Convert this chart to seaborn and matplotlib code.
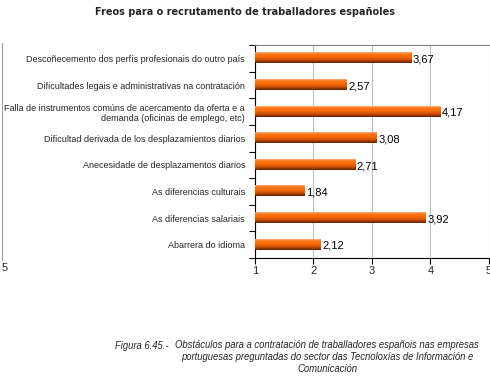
import numpy as np
import pandas as pd
import matplotlib
matplotlib.use("Agg")
import matplotlib.pyplot as plt
import seaborn as sns
from matplotlib.colors import LinearSegmentedColormap
from matplotlib.lines import Line2D

categories = [
    "Descoñecemento dos perfís profesionais do outro país",
    "Dificultades legais e administrativas na contratación",
    "Falla de instrumentos comúns de acercamento da oferta e a\ndemanda (oficinas de emplego, etc)",
    "Dificultad derivada de los desplazamientos diarios",
    "Anecesidade de desplazamentos diarios",
    "As diferencias culturais",
    "As diferencias salariais",
    "Abarrera do idioma",
]
values = [3.67, 2.57, 4.17, 3.08, 2.71, 1.84, 3.92, 2.12]
value_labels = ["3,67", "2,57", "4,17", "3,08", "2,71", "1,84", "3,92", "2,12"]
x_ticks = [1, 2, 3, 4, 5]

title = "Freos para o recrutamento de traballadores españoles"
caption_head = "Figura 6.45.-"
caption_body = ("Obstáculos para a contratación de traballadores españois nas empresas\n"
                "portuguesas preguntadas do sector das Tecnoloxías de Información e\n"
                "Comunicación")

sns.set_theme(style="white")
plt.rcParams['font.family'] = ['Liberation Sans', 'DejaVu Sans']

df = pd.DataFrame({"cat": categories, "val": values})

fig = plt.figure(figsize=(4.9, 3.76), dpi=100)
ax = fig.add_axes([0.520, 0.314, 0.478, 0.566])

sns.barplot(data=df, y="cat", x="val", orient="h", color="#E8650F",
            width=0.38, ax=ax, edgecolor="none")

ax.set_xlim(1, 5)
ax.set_ylim(len(categories) - 0.5, -0.5)
ax.set_xticks(x_ticks)
ax.set_xticklabels([str(t) for t in x_ticks], fontsize=8)
ax.set_xlabel("")
ax.set_ylabel("")
ax.set_yticks(range(len(categories)), minor=False)
ax.set_yticklabels(categories, fontsize=6.45, linespacing=1.15)
ax.tick_params(axis="y", length=0, pad=7)
ax.set_yticks(np.arange(-0.5, len(categories) + 0.5, 1), minor=True)
ax.tick_params(axis="y", which="minor", left=True, length=4, width=0.8, color="black", direction="out")
ax.tick_params(axis="x", which="major", bottom=True, length=4, width=0.8, color="black", direction="out", pad=2)
ax.grid(axis="x", color="#c0c0c0", linewidth=0.8)
ax.set_axisbelow(True)
for s in ["left", "bottom"]:
    ax.spines[s].set_color("black")
    ax.spines[s].set_linewidth(0.8)
ax.spines["top"].set_color("#808080")
ax.spines["top"].set_linewidth(0.8)
ax.spines["right"].set_visible(False)

# gradient fill of bars
cmap = LinearSegmentedColormap.from_list(
    "og", [(0.0, "#FFB080"), (0.15, "#FF7A1A"), (0.55, "#EE6000"), (0.8, "#B04400"), (1.0, "#5A1E00")])
grad = np.linspace(0, 1, 64).reshape(-1, 1)
for p, lab in zip(ax.patches, value_labels):
    x0, y0 = p.get_x(), p.get_y()
    w, h = p.get_width(), p.get_height()
    im = ax.imshow(grad, cmap=cmap, aspect="auto",
                   extent=[x0, x0 + w, y0 + h, y0], zorder=3, interpolation="bilinear")
    im.set_clip_path(p)
    im.set_clip_box(ax.bbox)
    p.set_visible(False)
    ax.text(x0 + w + 0.03, y0 + h / 2 + 0.05, lab, va="center", ha="left", fontsize=8, color="black")
ax.set_xlim(1, 5)
ax.set_ylim(len(categories) - 0.5, -0.5)

fig.text(0.5, 1 - 12 / 376, title, ha="center", va="center", fontsize=7.05, fontweight="bold",
         family=["DejaVu Sans"])

fig.text(115 / 490, 1 - 346 / 376, caption_head, ha="left", va="center", fontsize=6.85, style="italic")
fig.text(327 / 490, 1 - 340 / 376, caption_body, ha="center", va="top", fontsize=6.85, style="italic",
         linespacing=1.22)

# stray elements at the left edge
fig.text(5 / 490, 1 - 268 / 376, "5", ha="center", va="center", fontsize=8)
fig.add_artist(Line2D([2 / 490, 2 / 490], [1 - 43 / 376, 1 - 260 / 376], color="#a0a0a0",
                      linewidth=0.8, transform=fig.transFigure))

fig.savefig("out.png", dpi=100)
